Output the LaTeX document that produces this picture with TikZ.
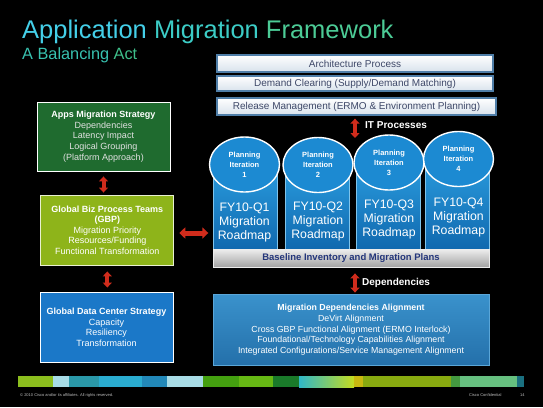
\documentclass[tikz,border=0pt]{standalone}
\usepackage{fontspec}
\setmainfont{Liberation Sans}
\usetikzlibrary{arrows.meta,shapes.geometric,calc}
\definecolor{tA}{HTML}{44CFE8}
\definecolor{tB}{HTML}{3CCCC6}
\definecolor{tC}{HTML}{4CCB96}
\definecolor{sA}{HTML}{38C2B0}
\definecolor{sB}{HTML}{3EBF8A}
\definecolor{topbd}{HTML}{4F7EA8}
\definecolor{toptx}{HTML}{3E4868}
\definecolor{topbot}{HTML}{D8E2EC}
\definecolor{colT}{HTML}{2A9CDE}
\definecolor{colB}{HTML}{1068AE}
\definecolor{circ}{HTML}{1C8AD2}
\definecolor{barT}{HTML}{EEEEEE}
\definecolor{barB}{HTML}{A4A4A4}
\definecolor{bartx}{HTML}{23357A}
\definecolor{migT}{HTML}{3A92CC}
\definecolor{migB}{HTML}{2470AA}
\definecolor{migbd}{HTML}{5AA6D8}
\definecolor{appsG}{HTML}{1F6B2F}
\definecolor{gbpG}{HTML}{8EB41A}
\definecolor{gdcB}{HTML}{1B78C8}
\definecolor{arr}{HTML}{D02C1C}
\definecolor{lightx}{HTML}{E2E2E2}
\definecolor{f1}{HTML}{8CBE1E}
\definecolor{f2}{HTML}{A8DCE6}
\definecolor{f3}{HTML}{2A98A8}
\definecolor{f4}{HTML}{2AACD0}
\definecolor{f5}{HTML}{2288B8}
\definecolor{f6}{HTML}{44A010}
\definecolor{f7}{HTML}{66B814}
\definecolor{f8}{HTML}{1A7A2A}
\definecolor{f9}{HTML}{30B8C8}
\definecolor{f10}{HTML}{C4DC20}
\definecolor{f11}{HTML}{C8B810}
\definecolor{f12}{HTML}{88AA10}
\definecolor{f13}{HTML}{449940}
\definecolor{f14}{HTML}{66C080}
\definecolor{f15}{HTML}{1A7080}
\begin{document}
\begin{tikzpicture}[x=1pt,y=-1pt,
  topbox/.style={draw=topbd, line width=1.3pt, top color=white, bottom color=topbot, text=toptx, inner sep=0pt, font=\fontsize{10}{12}\selectfont},
  colbox/.style={draw=colT!60!white, line width=0.4pt, top color=colT, bottom color=colB, minimum width=64pt, inner sep=0pt},
  itercirc/.style={ellipse, draw=white, line width=1.4pt, fill=circ, minimum width=70pt, minimum height=55pt, inner sep=0pt, text=white, align=center, font=\bfseries\fontsize{7.5}{10}\selectfont},
  coltext/.style={text=white, align=center, font=\fontsize{12.3}{14}\selectfont},
  leftbox/.style={draw=white, line width=0.9pt, minimum width=133pt, minimum height=70pt, inner sep=0pt, text=white, align=center, font=\fontsize{9}{10.6}\selectfont},
  redarr/.style={draw=arr, line width=4pt, {Triangle[width=9pt,length=5pt]}-{Triangle[width=9pt,length=5pt]}},
  lbl/.style={text=white, font=\bfseries\fontsize{10}{12}\selectfont, anchor=west, inner sep=0pt},
  foot/.style={text=white!75!black, font=\fontsize{4}{5}\selectfont, inner sep=0pt},
]
\fill[black] (0,0) rectangle (543,407);
\useasboundingbox (0,0) rectangle (543,407);

% title
\node[anchor=base west, inner sep=0pt, font=\fontsize{25.5}{27}\selectfont] (title) at (22,38)
  {\textcolor{tA}{Application} \textcolor{tB}{Migration} \textcolor{tC}{Framework}};
\node[anchor=base west, inner sep=0pt, font=\fontsize{16.3}{18}\selectfont] (sub) at (22,59)
  {\textcolor{sA}{A Balancing} \textcolor{sB}{Act}};

% top process boxes
\node[topbox, minimum width=276pt, minimum height=17pt] (arch) at (355,63.5) {Architecture Process};
\node[topbox, minimum width=276pt, minimum height=15pt] (demand) at (355,83.5) {Demand Clearing (Supply/Demand Matching)};
\node[topbox, minimum width=279pt, minimum height=17pt] (release) at (356.5,106.5) {Release Management (ERMO \& Environment Planning)};

% columns
\node[colbox, minimum height=85pt] (c1) at (245,207.5) {};
\node[colbox, minimum height=85pt] (c2) at (317,207.5) {};
\node[colbox, minimum height=88pt] (c3) at (388.5,206) {};
\node[colbox, minimum height=91pt] (c4) at (457.5,204.5) {};

\node[itercirc] (p1) at (244.5,164.5) {Planning\\Iteration\\1};
\node[itercirc] (p2) at (318,165) {Planning\\Iteration\\2};
\node[itercirc] (p3) at (389,162.5) {Planning\\Iteration\\3};
\node[itercirc] (p4) at (458.5,159) {Planning\\Iteration\\4};

\node[coltext] (r1) at ($(p1)+(0,57.5)$) {FY10-Q1\\Migration\\Roadmap};
\node[coltext] (r2) at ($(p2)+(0,56.5)$) {FY10-Q2\\Migration\\Roadmap};
\node[coltext] (r3) at ($(p3)+(0,57)$) {FY10-Q3\\Migration\\Roadmap};
\node[coltext] (r4) at ($(p4)+(0,58)$) {FY10-Q4\\Migration\\Roadmap};

% baseline bar
\node[draw=white!85!gray, line width=0.8pt, top color=barT, bottom color=barB, minimum width=276pt, minimum height=18pt, inner sep=0pt, text=bartx, font=\bfseries\fontsize{9.5}{11}\selectfont] (base) at (351,258) {Baseline Inventory and Migration Plans};

% migration dependencies box
\node[draw=migbd, line width=0.8pt, top color=migT, bottom color=migB, minimum width=276pt, minimum height=71pt, inner sep=0pt, text=white, align=center, font=\fontsize{8.8}{10.5}\selectfont] (mig) at (351,329.5)
  {\textbf{Migration Dependencies Alignment}\\[1pt] DeVirt Alignment\\ Cross GBP Functional Alignment (ERMO Interlock)\\ Foundational/Technology Capabilities Alignment\\ Integrated Configurations/Service Management Alignment};

% left boxes
\node[leftbox, fill=appsG, minimum height=69pt] (apps) at (103.5,136.5)
  {\textbf{Apps Migration Strategy}\\ \textcolor{lightx}{Dependencies}\\ \textcolor{lightx}{Latency Impact}\\ \textcolor{lightx}{Logical Grouping}\\ \textcolor{lightx}{(Platform Approach)}};
\node[leftbox, fill=gbpG, draw=white!80!gbpG] (gbp) at (107.3,230)
  {\textbf{Global Biz Process Teams}\\ \textbf{(GBP)}\\ Migration Priority\\ Resources/Funding\\ Functional Transformation};
\node[leftbox, fill=gdcB] (gdc) at (106.5,327)
  {\textbf{Global Data Center Strategy}\\[0.5pt] Capacity\\ Resiliency\\ Transformation};

% red arrows
\draw[redarr, shorten <=5pt, shorten >=2pt] (apps.south) -- (apps.south |- gbp.north);
\draw[redarr, shorten <=6pt, shorten >=4pt] (gbp.south) -- (gbp.south |- gdc.north);
\coordinate (hstart) at ($(gbp.east)+(0,3)$);
\draw[draw=arr, line width=5pt, {Triangle[width=11pt,length=6pt]}-{Triangle[width=11pt,length=6pt]}, shorten <=5pt, shorten >=4.5pt] (hstart) -- (hstart -| c1.west);
\coordinate (itend) at (355,138);
\draw[redarr, shorten <=3pt] (release.south -| itend) -- (itend);
\draw[redarr, shorten <=6pt, shorten >=1pt] (base.south -| itend) -- (mig.north -| itend);
\node[lbl] (itl) at (365,125) {IT Processes};
\node[lbl] (depl) at (362,283) {Dependencies};

% footer colour bar
\fill[f1] (18,376) rectangle (53,387);
\fill[f2] (53,376) rectangle (69,387);
\fill[f3] (69,376) rectangle (99,387);
\fill[f4] (99,376) rectangle (142,387);
\fill[f5] (142,376) rectangle (167,387);
\fill[f2] (167,376) rectangle (203,387);
\fill[f6] (203,376) rectangle (239,387);
\fill[f7] (239,376) rectangle (273,387);
\fill[f8] (273,376) rectangle (299,387);
\fill[left color=f9, right color=f10] (299,376) rectangle (354,387);
\fill[f11] (354,376) rectangle (363,387);
\fill[f12] (363,376) rectangle (451,387);
\fill[f13] (451,376) rectangle (460,387);
\fill[f14] (460,376) rectangle (517,387);
\fill[f15] (517,376) rectangle (524,387);

\node[foot, anchor=west] (copy) at (20,395) {© 2010 Cisco and/or its affiliates. All rights reserved.};
\node[foot, anchor=west] (conf) at (469,395) {Cisco Confidential};
\node[foot, anchor=west] (pg) at (520,395) {14};
\end{tikzpicture}
\end{document}
